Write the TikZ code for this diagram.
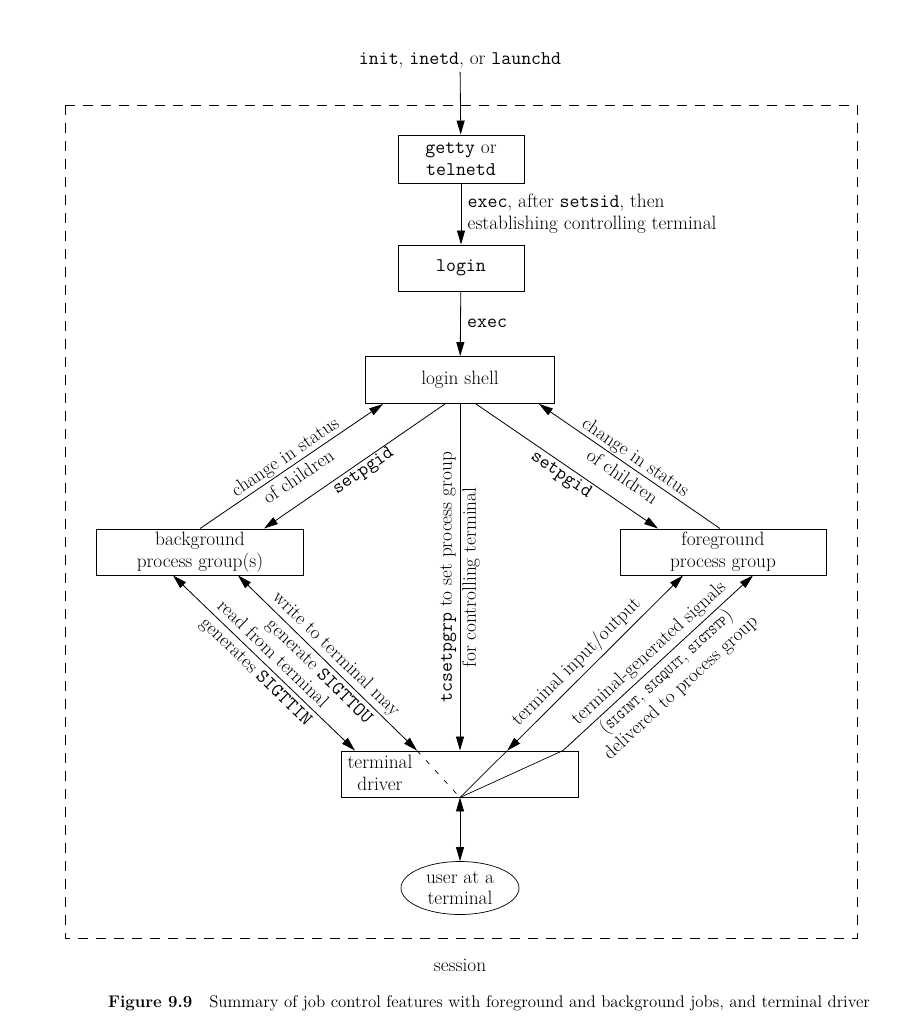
\documentclass[tikz,border=0pt]{standalone}
\usepackage{fontspec}
\usetikzlibrary{arrows.meta,positioning,shapes.geometric,calc}
\newcommand{\prog}[1]{\texttt{#1}}
\newcommand{\sig}[1]{{\fontsize{11.5}{12}\selectfont\ttfamily #1}}
\tikzset{
  proc/.style={draw,line width=0.8pt,inner sep=0pt,minimum height=1.38cm,
    align=center},
  user/.style={draw,ellipse,line width=0.6pt,inner sep=0pt,
    minimum width=3.54cm,minimum height=1.59cm,align=center},
  arrow/.style={-{Triangle[length=0.42cm,width=0.24cm]},line width=0.7pt},
  twoway/.style={{Triangle[length=0.42cm,width=0.24cm]}-{Triangle[length=0.42cm,width=0.24cm]},
    line width=0.7pt},
  frame/.style={dash pattern=on 0.3cm off 0.24cm,line width=0.7pt},
  lbl/.style={align=center,inner sep=2pt},
  split/.style={lbl,font=\fontsize{16.5}{20.5}\selectfont}
}

\begin{document}
\begin{tikzpicture}[x=0.03cm,y=-0.03cm,font=\fontsize{16.5}{18.5}\selectfont]
  \useasboundingbox (0,0) rectangle (920,1030);

  % session frame
  \draw[frame] (65,105) rectangle (857,938);
  \node (sess) at (460,965) {session};

  % processes
  \node (init) at (460,60) {\prog{init}, \prog{inetd}, or \prog{launchd}};
  \node[proc,minimum width=3.78cm,minimum height=1.44cm] (getty) at (461,159)
    {\prog{getty} or\\\prog{telnetd}};
  \node[proc,minimum width=3.78cm] (login) at (461,268) {\prog{login}};
  \node[proc,minimum width=5.67cm,minimum height=1.41cm] (ls) at (460,380) {login shell};
  \node[proc,minimum width=6.21cm] (bg) at (200,552) {background\\process group(s)};
  \node[proc,minimum width=6.18cm] (fg) at (723,552) {foreground\\process group};
  \node[proc,minimum width=7.11cm] (drv) at (460,774) {};
  \node[lbl] (drvtxt) at (380,773) {terminal\\driver};
  \node[user] (usr) at (460,888) {user at a\\terminal};

  % start and end points on the boxes
  \coordinate (lsA) at ($(ls.south)+(-77,0)$);
  \coordinate (lsB) at ($(ls.south)+(-15,0)$);
  \coordinate (lsC) at ($(ls.south)+(16,0)$);
  \coordinate (lsD) at ($(ls.south)+(79,0)$);
  \coordinate (bgA) at (bg.north);
  \coordinate (bgB) at ($(bg.north)+(64,0)$);
  \coordinate (bgC) at ($(bg.south)+(-27,0)$);
  \coordinate (bgD) at ($(bg.south)+(38,0)$);
  \coordinate (fgA) at ($(fg.north)+(-65,0)$);
  \coordinate (fgB) at ($(fg.north)+(-3,0)$);
  \coordinate (fgC) at ($(fg.south)+(-40,0)$);
  \coordinate (fgD) at ($(fg.south)+(30,0)$);
  \coordinate (drvA) at ($(drv.north)+(-105,0)$);
  \coordinate (drvB) at ($(drv.north)+(-43,0)$);
  \coordinate (drvD) at ($(drv.north)+(103,0)$);
  \coordinate (drvC) at (intersection of fgC--drv.south and drv.north west--drv.north east);

  % login chain
  \draw[arrow] (init) -- (getty);
  \draw[arrow] (getty) -- node[right,align=left,xshift=2pt]
    {\prog{exec}, after \prog{setsid}, then\\establishing controlling terminal} (login);
  \draw[arrow] (login) -- node[right,xshift=2pt] {\prog{exec}} (ls);

  % shell and process groups
  \draw[arrow] (bgA) -- node[split,sloped] {change in status\\of children} (lsA);
  \draw[arrow] (lsB) -- node[sloped,below,pos=0.48,inner sep=1pt] {\prog{setpgid}} (bgB);
  \draw[arrow] (lsC) -- node[sloped,below,pos=0.5,inner sep=2pt] {\prog{setpgid}} (fgA);
  \draw[arrow] (fgB) -- node[split,sloped] {change in status\\of children} (lsD);
  \draw[arrow] (ls) -- node[split,rotate=90]
    {\prog{tcsetpgrp} to set process group\\for controlling terminal} (drv);

  % terminal driver
  \draw[twoway] (bgC) -- node[split,sloped] {read from terminal\\generates \prog{SIGTTIN}} (drvA);
  \draw[twoway] (bgD) -- node[split,sloped] {write to terminal may\\generate \prog{SIGTTOU}} (drvB);
  \draw[dash pattern=on 0.15cm off 0.25cm,line width=0.6pt] (drvB) -- (drv.south);
  \draw[twoway] (fgC) -- node[sloped,above,pos=0.55] {terminal input/output} (drvC);
  \draw[line width=0.6pt] (drvC) -- (drv.south);
  \draw[line width=0.6pt] (drv.south) -- (drvD);
  \draw[arrow] (drvD) -- node[sloped,above,pos=0.5] {terminal-generated signals}
    node[lbl,sloped,below,pos=0.5]
    {(\sig{SIGINT}, \sig{SIGQUIT}, \sig{SIGTSTP})\\delivered to process group} (fgD);
  \draw[twoway] (drv.south) -- (usr);

  % caption
  \node[anchor=west,font=\fontsize{14.4}{17}\selectfont] (cap) at (104,1003)
    {\textbf{Figure 9.9}\quad Summary of job control features with foreground and background jobs, and terminal driver};
\end{tikzpicture}
\end{document}
